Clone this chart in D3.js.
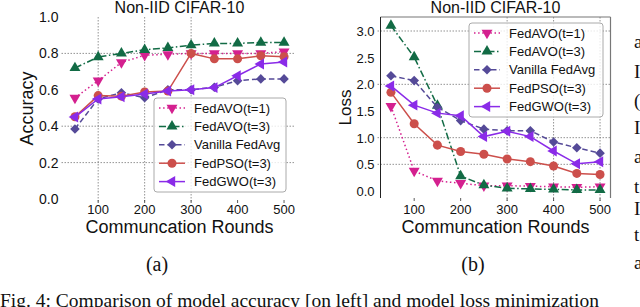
<!DOCTYPE html>
<html>
<head>
<meta charset="utf-8">
<script src="https://cdn.jsdelivr.net/npm/d3@7"></script>
<style>
  body { margin: 0; background: #fff; }
  svg { display: block; }
  text { font-family: "Liberation Sans", Arial, sans-serif; fill: #111; }
  .serif { font-family: "Liberation Serif", "Times New Roman", serif; }
</style>
</head>
<body>
<svg id="fig" width="640" height="307"></svg>
<script>
// communication rounds
var rounds = [50, 100, 150, 200, 250, 300, 350, 400, 450, 500];
var xTicks = [100, 200, 300, 400, 500];

// accuracy (panel a)
var accAvo1 = [0.556, 0.65, 0.75, 0.79, 0.795, 0.80, 0.80, 0.80, 0.80, 0.81];
var accAvo3 = [0.72, 0.78, 0.80, 0.82, 0.83, 0.845, 0.855, 0.855, 0.86, 0.86];
var accAvg  = [0.385, 0.55, 0.584, 0.556, 0.60, 0.60, 0.614, 0.65, 0.66, 0.66];
var accPso  = [0.452, 0.568, 0.565, 0.588, 0.593, 0.80, 0.77, 0.77, 0.787, 0.782];
var accGwo  = [0.45, 0.55, 0.562, 0.577, 0.593, 0.60, 0.612, 0.677, 0.742, 0.753];
var accTicks = [0.0, 0.2, 0.4, 0.6, 0.8, 1.0];
var accGrid = [0.2, 0.4, 0.8];

// loss (panel b)
var lossAvo1 = [1.59, 0.375, 0.19, 0.145, 0.10, 0.10, 0.09, 0.08, 0.07, 0.08];
var lossAvo3 = [3.10, 2.51, 1.60, 0.28, 0.11, 0.05, 0.04, 0.03, 0.02, 0.02];
var lossAvg  = [2.16, 2.07, 1.57, 1.32, 1.16, 1.13, 1.13, 0.92, 0.81, 0.71];
var lossPso  = [1.85, 1.26, 0.86, 0.74, 0.69, 0.60, 0.55, 0.47, 0.33, 0.31];
var lossGwo  = [1.97, 1.61, 1.46, 1.41, 1.02, 1.12, 1.02, 0.75, 0.51, 0.55];
var lossTicks = [0.0, 0.5, 1.0, 1.5, 2.0, 2.5, 3.0];
var lossGrid = [0.5, 1.0, 2.0, 3.0];

var seriesNames = ["FedAVO(t=1)", "FedAVO(t=3)", "Vanilla FedAvg", "FedPSO(t=3)", "FedGWO(t=3)"];

var styles = [
  {color: "#d4208f", dash: "1.5,2.6", marker: "down"},
  {color: "#126b45", dash: "7,2.5,1.5,2.5", marker: "up"},
  {color: "#554a98", dash: "5.5,3", marker: "diamond"},
  {color: "#cc4f4b", dash: null, marker: "circle"},
  {color: "#8a2be8", dash: null, marker: "left"}
];

var svg = d3.select("#fig");

function markerPath(kind) {
  if (kind == "circle") return d3.symbol(d3.symbolCircle, 64)();
  if (kind == "diamond") return d3.symbol(d3.symbolSquare, 46)();
  return d3.symbol(d3.symbolTriangle, 52)();
}
function markerRot(kind) {
  if (kind == "down") return 180;
  if (kind == "left") return -90;
  if (kind == "diamond") return 45;
  return 0;
}

function panel(opt) {
  var g = svg.append("g");
  var x = d3.scaleLinear().domain([27.5, 522.5]).range(opt.xRange);
  var y = d3.scaleLinear().domain(opt.yDomain).range(opt.yRange);
  var top = opt.top, bottom = opt.bottom;

  // grid
  g.selectAll(".hg").data(opt.grid).enter().append("line")
    .attr("x1", opt.xRange[0] - 3).attr("x2", opt.xRange[1])
    .attr("y1", function(d) { return y(d); }).attr("y2", function(d) { return y(d); })
    .attr("stroke", "#777").attr("stroke-width", 0.8).attr("stroke-dasharray", "1.5,1.5");
  g.selectAll(".vg").data(opt.vgrid).enter().append("line")
    .attr("x1", function(d) { return x(d); }).attr("x2", function(d) { return x(d); })
    .attr("y1", top).attr("y2", bottom + 3)
    .attr("stroke", "#777").attr("stroke-width", 0.8).attr("stroke-dasharray", "1.5,1.5");

  // x ticks
  g.selectAll(".xt").data(xTicks).enter().append("line")
    .attr("x1", function(d) { return x(d); }).attr("x2", function(d) { return x(d); })
    .attr("y1", bottom).attr("y2", bottom + 3)
    .attr("stroke", "#333").attr("stroke-width", 0.8);
  g.selectAll(".xl").data(xTicks).enter().append("text")
    .attr("x", function(d) { return x(d); }).attr("y", 214)
    .attr("text-anchor", "middle").style("font-size", "13px")
    .text(function(d) { return d; });
  g.selectAll(".yl").data(opt.ticks).enter().append("text")
    .attr("x", opt.xRange[0] - opt.labelGap).attr("y", function(d) { return y(d) + 5; })
    .attr("text-anchor", "end").style("font-size", opt.tickSize)
    .text(function(d) { return d.toFixed(1); });

  // spines
  if (opt.frame) {
    g.append("line").attr("x1", opt.xRange[0]).attr("x2", opt.xRange[1])
      .attr("y1", top).attr("y2", top).attr("stroke", "#777").attr("stroke-width", 1.2);
    g.append("line").attr("x1", opt.xRange[1]).attr("x2", opt.xRange[1])
      .attr("y1", top).attr("y2", bottom).attr("stroke", "#777").attr("stroke-width", 1.2);
    g.append("line").attr("x1", opt.xRange[0]).attr("x2", opt.xRange[0])
      .attr("y1", top).attr("y2", bottom).attr("stroke", "#222").attr("stroke-width", 1);
  }

  // series
  var line = d3.line().x(function(d) { return x(d[0]); }).y(function(d) { return y(d[1]); });
  opt.series.forEach(function(vals, i) {
    var st = styles[i];
    var pts = rounds.map(function(r, j) { return [r, vals[j]]; });
    g.append("path").datum(pts).attr("d", line)
      .attr("fill", "none").attr("stroke", st.color).attr("stroke-width", 1.5)
      .attr("stroke-dasharray", st.dash);
    g.selectAll(".m" + i).data(pts).enter().append("path")
      .attr("d", markerPath(st.marker))
      .attr("transform", function(d) {
        return "translate(" + x(d[0]) + "," + y(d[1]) + ") rotate(" + markerRot(st.marker) + ")";
      })
      .attr("fill", st.color);
  });

  // legend
  var L = opt.legend;
  g.append("rect").attr("x", L.x).attr("y", L.y).attr("width", L.w).attr("height", L.h)
    .attr("rx", 3).attr("fill", "#fff").attr("fill-opacity", 0.8)
    .attr("stroke", "#aaa").attr("stroke-width", 1);
  seriesNames.forEach(function(name, i) {
    var st = styles[i];
    var ly = L.y + 10 + i * 18.4;
    g.append("line").attr("x1", L.x + 5).attr("x2", L.x + 31).attr("y1", ly).attr("y2", ly)
      .attr("stroke", st.color).attr("stroke-width", 1.5).attr("stroke-dasharray", st.dash);
    g.append("path").attr("d", markerPath(st.marker))
      .attr("transform", "translate(" + (L.x + 18) + "," + ly + ") rotate(" + markerRot(st.marker) + ")")
      .attr("fill", st.color);
    g.append("text").attr("x", L.x + 40).attr("y", ly + 4.5).style("font-size", "13px").text(name);
  });

  // titles
  var cx = (opt.xRange[0] + opt.xRange[1]) / 2;
  g.append("text").attr("x", cx).attr("y", 13).attr("text-anchor", "middle")
    .style("font-size", "16px").text("Non-IID CIFAR-10");
  g.append("text").attr("x", cx).attr("y", 233).attr("text-anchor", "middle")
    .style("font-size", "18px").text("Communcation Rounds");
  g.append("text")
    .attr("transform", "translate(" + opt.ylabelX + "," + ((top + bottom) / 2) + ") rotate(-90)")
    .attr("text-anchor", "middle").style("font-size", opt.ylabelSize).text(opt.ylabel);
  g.append("text").attr("class", "serif").attr("x", opt.sub[0]).attr("y", 271)
    .attr("text-anchor", "middle").style("font-size", "20px").text(opt.sub[1]);
}

panel({
  xRange: [64.5, 294.5], yDomain: [0, 1], yRange: [199, 17], top: 17, bottom: 200,
  series: [accAvo1, accAvo3, accAvg, accPso, accGwo],
  ticks: accTicks, grid: accGrid, vgrid: [100, 200, 300], frame: false,
  tickSize: "14px", labelGap: 6,
  legend: {x: 154, y: 98, w: 132, h: 94},
  ylabel: "Accuracy", ylabelX: 33, ylabelSize: "18px", sub: [157, "(a)"]
});

panel({
  xRange: [380.5, 610.5], yDomain: [0, 3], yRange: [191, 31], top: 17, bottom: 198,
  series: [lossAvo1, lossAvo3, lossAvg, lossPso, lossGwo],
  ticks: lossTicks, grid: lossGrid, vgrid: [300, 400, 500], frame: true,
  tickSize: "13px", labelGap: 6,
  legend: {x: 469, y: 23, w: 134, h: 94},
  ylabel: "Loss", ylabelX: 351, ylabelSize: "17px", sub: [473, "(b)"]
});

// caption and neighbouring column text
svg.append("text").attr("class", "serif").attr("x", 0).attr("y", 307)
  .style("font-size", "19.5px")
  .text("Fig. 4: Comparison of model accuracy [on left] and model loss minimization");
var sideLetters = ["a", "I", "(", "I", "a", "t", "I", "t", "a"];
var sideY = [48, 78, 107, 134, 163, 193, 215, 241, 269];
svg.selectAll(".side").data(sideLetters).enter().append("text")
  .attr("class", "serif").attr("x", 634).attr("y", function(d, i) { return sideY[i]; })
  .style("font-size", "19px").text(function(d) { return d; });
</script>
</body>
</html>
